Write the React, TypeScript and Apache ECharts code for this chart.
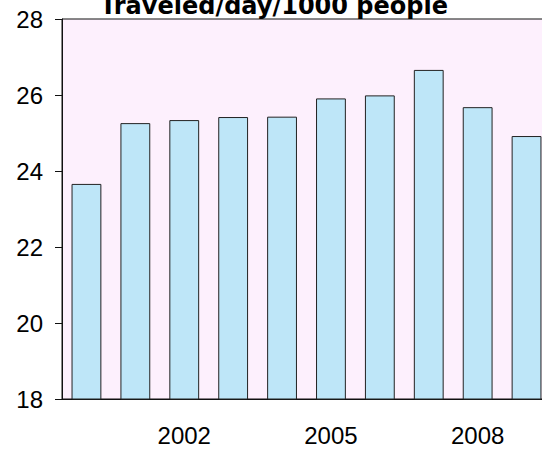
import React, { useEffect, useRef } from "react";
import * as echarts from "echarts";

const years = ["2000", "2001", "2002", "2003", "2004", "2005", "2006", "2007", "2008", "2009"];
const values = [23.66, 25.26, 25.34, 25.42, 25.43, 25.91, 25.99, 26.66, 25.68, 24.92];
const titleText = "Traveled/day/1000 people";

export default function App() {
  const ref = useRef<HTMLDivElement>(null);
  useEffect(() => {
    document.body.style.margin = "0";
    document.body.style.overflow = "hidden";
    const chart = echarts.init(ref.current!, undefined, { renderer: "svg" });
    const showIdx = (i: number) => i % 3 === 2;
    chart.setOption({
      animation: false,
      backgroundColor: "#ffffff",
      graphic: [
        {
          type: "text",
          x: 0,
          y: 0,
          style: {
            text: titleText,
            x: 274,
            y: 6,
            align: "center",
            verticalAlign: "middle",
            fontFamily: "DejaVu Sans",
            fontWeight: "bold",
            fontSize: 24,
            fill: "#000",
          },
        },
      ],
      grid: {
        left: 62,
        top: 19,
        bottom: 51,
        right: 9,
        show: true,
        backgroundColor: "#fdf0fd",
        borderColor: "#111",
        borderWidth: 1,
      },
      xAxis: {
        type: "category",
        data: years,
        axisLine: { lineStyle: { color: "#111", width: 1 } },
        axisTick: { alignWithLabel: true, interval: (i: number) => showIdx(i), length: 7, lineStyle: { color: "#111" } },
        axisLabel: {
          interval: (i: number) => showIdx(i),
          fontFamily: "Liberation Sans",
          fontSize: 24,
          color: "#000",
          margin: 24,
        },
        splitLine: { show: false },
      },
      yAxis: {
        type: "value",
        min: 18,
        max: 28,
        interval: 2,
        axisLine: { show: true, lineStyle: { color: "#111", width: 1 } },
        axisTick: { show: true, length: 7, lineStyle: { color: "#111" } },
        axisLabel: {
          fontFamily: "Liberation Sans",
          fontSize: 24,
          color: "#000",
          margin: 19,
        },
        splitLine: { show: false },
      },
      series: [
        {
          type: "bar",
          data: values,
          barWidth: "61%",
          itemStyle: { color: "#bee6f8", borderColor: "#222", borderWidth: 1 },
        },
      ],
    });
    return () => chart.dispose();
  }, []);
  return (
    <div style={{ position: "fixed", left: 0, top: 0, width: 542, height: 450, overflow: "hidden" }}>
      <div ref={ref} style={{ width: 560, height: 450 }} />
    </div>
  );
}
